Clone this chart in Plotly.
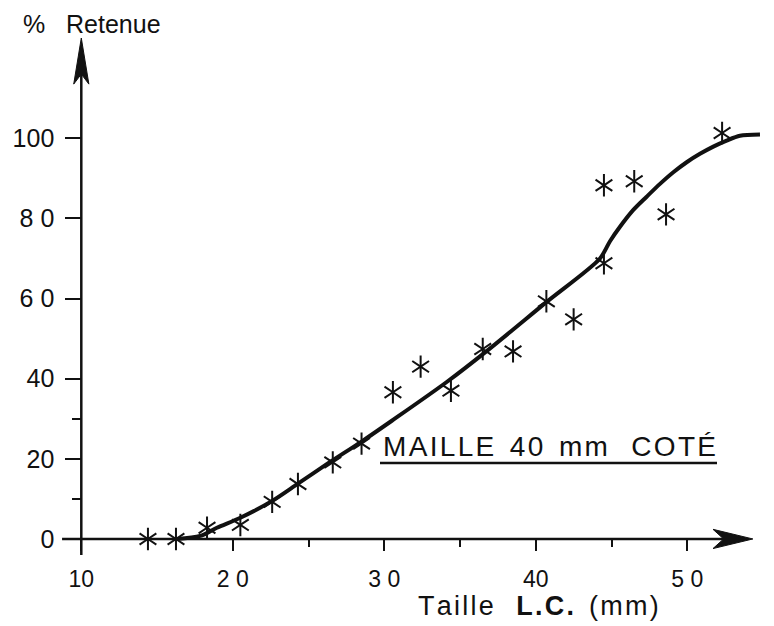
import plotly.graph_objects as go

# Observed retention (%) by carapace length (mm), 40 mm side mesh
length_obs = [14.4, 16.25, 18.3, 20.5, 22.6, 24.3, 26.6, 28.5, 30.57, 32.4,
              34.4, 36.5, 38.5, 40.7, 42.5, 44.5, 44.5, 46.5, 48.6, 52.3]
retained_obs = [0, 0, 2.8, 3.5, 9.25, 13.7, 19.1, 23.8, 36.6, 43,
                37, 47.4, 46.8, 59.3, 54.8, 68.8, 88.25, 89.25, 81, 101.3]

# Hand-fitted selection curve
length_fit = [16.3, 17.85, 18.95, 20.5, 22.6, 24.3, 26.3, 28.5, 30.5, 34.1,
              36.8, 40.7, 44.24, 44.9, 45.56, 46.44, 47.32, 48.2, 49.08,
              49.96, 50.84, 51.72, 52.6, 53.48, 54.8]
retained_fit = [0, 0.75, 2.8, 5.3, 9.5, 13.8, 18.9, 24.3, 29.5, 39.1,
                47, 59.1, 70.0, 74.3, 77.9, 82.1, 85.4, 88.6, 91.5,
                94.0, 96.1, 97.9, 99.4, 100.6, 100.9]

x_ticks = [10, 20, 30, 40, 50]
x_ticktext = ["10", "2 0", "3 0", "40", "5 0"]
x_minor = [25, 35, 45]
y_ticks = [0, 20, 40, 60, 80, 100]
y_ticktext = ["0", "20", "40", "6 0", "8 0", "100"]
y_minor = [10, 30]

INK = "#111111"
FONT = "Liberation Sans, Arial, sans-serif"
HAIR = "\u200a"
GAP = "\u00a0"

W, H = 774, 626
ML, MR, MT, MB = 51, 11, 26, 63
X_RANGE = [8, 55]
Y_RANGE = [-6, 128]


def px_x(px):
    return (px - ML) / (W - ML - MR)


def px_y(py):
    return (H - MB - py) / (H - MT - MB)


def spaced(word):
    """Letter-spaced lettering, as on a stencilled drawing."""
    return HAIR.join(word)


fig = go.Figure()

fig.add_trace(go.Scatter(
    x=length_fit, y=retained_fit, mode="lines",
    line=dict(color=INK, width=4, shape="spline", smoothing=0.8),
    hoverinfo="skip", showlegend=False,
))

for sym in ("y-up-open", "y-down-open"):
    fig.add_trace(go.Scatter(
        x=length_obs, y=retained_obs, mode="markers",
        marker=dict(symbol=sym, size=14, color=INK,
                    line=dict(color=INK, width=2)),
        showlegend=False,
    ))

# Axis lines with arrowheads
fig.add_shape(type="line", x0=10, x1=10, y0=-4, y1=116,
              line=dict(color=INK, width=2.5))
fig.add_shape(type="path", path="M 10 125 L 9.5 113.5 L 10 116 L 10.5 113.5 Z",
              fillcolor=INK, line=dict(color=INK, width=1))
fig.add_shape(type="line", x0=8.73, x1=52.6, y0=0, y1=0,
              line=dict(color=INK, width=2.5))
fig.add_shape(type="path", path="M 54.33 0 L 51.7 2.4 L 52.4 0 L 51.7 -2.4 Z",
              fillcolor=INK, line=dict(color=INK, width=1))

# Underline of the mesh label
fig.add_shape(type="line", xref="paper", yref="paper",
              x0=px_x(380), x1=px_x(717), y0=px_y(463), y1=px_y(463),
              line=dict(color=INK, width=2.5))

fig.add_annotation(
    text="%" + GAP * 3 + "Retenue", xref="paper", yref="paper",
    x=px_x(21), y=px_y(24), xanchor="left", yanchor="middle",
    showarrow=False, font=dict(family=FONT, size=25, color=INK),
)
fig.add_annotation(
    text=spaced("Taille") + GAP * 3 + "<b>" + spaced("L.C.") + "</b>" + GAP * 2 + spaced("(mm)"),
    xref="paper", yref="paper",
    x=px_x(416), y=px_y(606), xanchor="left", yanchor="middle",
    showarrow=False, font=dict(family=FONT, size=27, color=INK),
)
fig.add_annotation(
    text=GAP.join([spaced("MAILLE"), "", spaced("40"), "", spaced("mm"), "", "", spaced("COTÉ")]),
    xref="paper", yref="paper",
    x=px_x(381), y=px_y(446), xanchor="left", yanchor="middle",
    showarrow=False, font=dict(family=FONT, size=28, color=INK),
)

fig.update_layout(
    width=W, height=H,
    margin=dict(l=ML, r=MR, t=MT, b=MB),
    paper_bgcolor="white", plot_bgcolor="white",
    xaxis=dict(
        range=X_RANGE, anchor="free", position=px_y(539),
        showline=False, showgrid=False, zeroline=False,
        tickmode="array", tickvals=x_ticks, ticktext=x_ticktext,
        ticks="outside", ticklen=11, tickwidth=2, tickcolor=INK,
        ticklabelstandoff=8,
        minor=dict(tickmode="array", tickvals=x_minor, ticks="outside",
                   ticklen=7, tickwidth=2, tickcolor=INK),
        tickfont=dict(family=FONT, size=23, color=INK),
    ),
    yaxis=dict(
        range=Y_RANGE, anchor="free", position=px_x(81.3),
        showline=False, showgrid=False, zeroline=False,
        tickmode="array", tickvals=y_ticks, ticktext=y_ticktext,
        ticks="outside", ticklen=16, tickwidth=2, tickcolor=INK,
        ticklabelstandoff=6,
        minor=dict(tickmode="array", tickvals=y_minor, ticks="outside",
                   ticklen=9, tickwidth=2, tickcolor=INK),
        tickfont=dict(family=FONT, size=25, color=INK),
    ),
)

fig.write_html("out.html")
